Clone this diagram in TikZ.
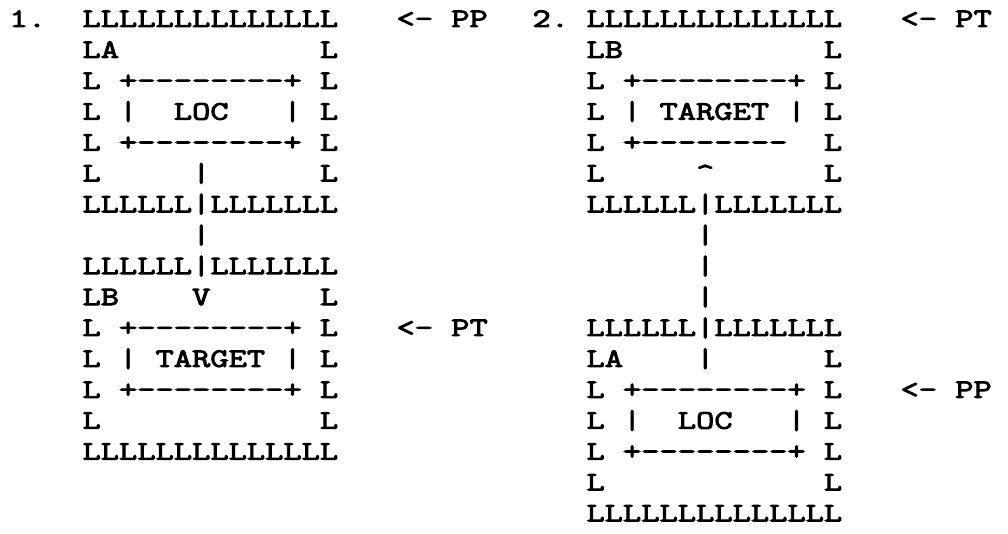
\documentclass[tikz,border=0pt]{standalone}
\usepackage{fontspec}
\setmonofont{Latin Modern Mono}[FakeStretch=1.33, FakeBold=3.5]
\usepackage{tikz}

\tikzset{every picture/.style={line width=0.75pt}}
\tikzset{typed/.style={anchor=base west, inner sep=0pt, font=\ttfamily\fontsize{20}{24}\selectfont}}

\begin{document}
\begin{tikzpicture}[x=0.75pt,y=0.75pt,yscale=-1,xscale=1]
\useasboundingbox (0,0) rectangle (1008,534); %set diagram left start at 0, and has height of 534

%Text Node: case numbers
\draw (9,27) node (n1) [typed] {1.};
\draw (532,27) node (n2) [typed] {2.};

%Text Node: case 1, LOC above TARGET
\draw (82,27) node (a1) [typed] {LLLLLLLLLLLLLL};
\draw (82,57.9) node (a2) [typed] {LA~~~~~~~~~~~L};
\draw (82,88.8) node (a3) [typed] {L~+--------+~L};
\draw (82,119.7) node (a4) [typed] {L~|~~LOC~~~|~L};
\draw (82,150.6) node (a5) [typed] {L~+--------+~L};
\draw (82,181.5) node (a6) [typed] {L~~~~~|~~~~~~L};
\draw (82,212.4) node (a7) [typed] {LLLLLL|LLLLLLL};
\draw (82,243.3) node (a8) [typed] {~~~~~~|};
\draw (82,274.2) node (a9) [typed] {LLLLLL|LLLLLLL};
\draw (82,305.1) node (a10) [typed] {LB~~~~V~~~~~~L};
\draw (82,336) node (a11) [typed] {L~+--------+~L};
\draw (82,366.9) node (a12) [typed] {L~|~TARGET~|~L};
\draw (82,397.8) node (a13) [typed] {L~+--------+~L};
\draw (82,428.7) node (a14) [typed] {L~~~~~~~~~~~~L};
\draw (82,459.6) node (a15) [typed] {LLLLLLLLLLLLLL};

%Text Node: pointers of case 1
\draw (396,27) node (pp1) [typed] {<-~PP};
\draw (396,336) node (pt1) [typed] {<-~PT};

%Text Node: case 2, TARGET above LOC
\draw (586,27) node (b1) [typed] {LLLLLLLLLLLLLL};
\draw (586,57.9) node (b2) [typed] {LB~~~~~~~~~~~L};
\draw (586,88.8) node (b3) [typed] {L~+--------+~L};
\draw (586,119.7) node (b4) [typed] {L~|~TARGET~|~L};
\draw (586,150.6) node (b5) [typed] {L~+--------~~L};
\draw (586,181.5) node (b6) [typed] {L~~~~~\textasciicircum~~~~~~L};
\draw (586,212.4) node (b7) [typed] {LLLLLL|LLLLLLL};
\draw (586,243.3) node (b8) [typed] {~~~~~~|};
\draw (586,274.2) node (b9) [typed] {~~~~~~|};
\draw (586,305.1) node (b10) [typed] {~~~~~~|};
\draw (586,336) node (b11) [typed] {LLLLLL|LLLLLLL};
\draw (586,366.9) node (b12) [typed] {LA~~~~|~~~~~~L};
\draw (586,397.8) node (b13) [typed] {L~+--------+~L};
\draw (586,428.7) node (b14) [typed] {L~|~~LOC~~~|~L};
\draw (586,459.6) node (b15) [typed] {L~+--------+~L};
\draw (586,490.5) node (b16) [typed] {L~~~~~~~~~~~~L};
\draw (586,521.4) node (b17) [typed] {LLLLLLLLLLLLLL};

%Text Node: pointers of case 2
\draw (900,27) node (pt2) [typed] {<-~PT};
\draw (900,397.8) node (pp2) [typed] {<-~PP};
\end{tikzpicture}
\end{document}
